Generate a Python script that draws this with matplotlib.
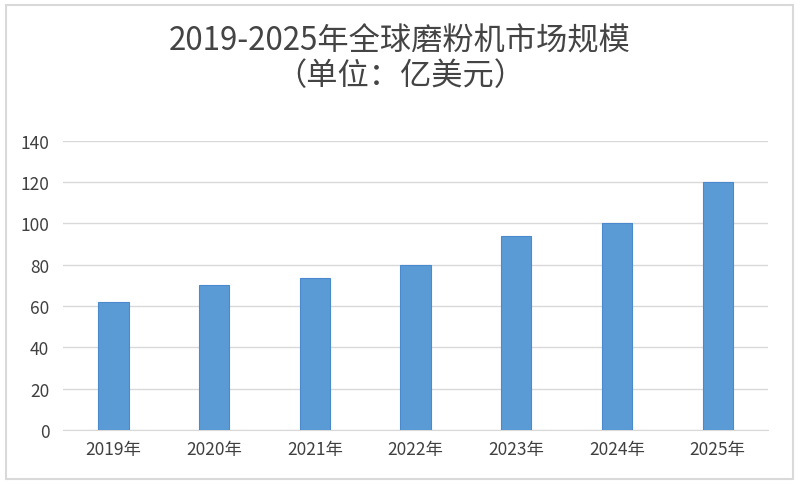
import matplotlib.pyplot as plt
from matplotlib.patches import Rectangle

plt.rcParams['font.family'] = ['Noto Sans CJK SC', 'DejaVu Sans']

years = ['2019年', '2020年', '2021年', '2022年', '2023年', '2024年', '2025年']
market_size = [62, 70, 73.6, 80, 94, 100, 120]
y_ticks = [0, 20, 40, 60, 80, 100, 120, 140]

fig = plt.figure(figsize=(8, 4.85), dpi=100)
ax = fig.add_axes([0.079, 0.1113, 0.881, 0.5965])

x = range(len(years))
ax.bar(x, market_size, width=0.3, color='#5B9BD5', edgecolor='#4A89CC', linewidth=0.8, zorder=3)

ax.set_xlim(-0.5, len(years) - 0.5)
ax.set_ylim(0, 140)
ax.set_yticks(y_ticks)
ax.set_xticks(list(x))
ax.set_xticklabels(years)
ax.grid(axis='y', color='#D9D9D9', linewidth=1, zorder=0)
for s in ['top', 'right', 'left']:
    ax.spines[s].set_visible(False)
ax.spines['bottom'].set_color('#D9D9D9')
ax.tick_params(axis='both', length=0, labelsize=12.5, labelcolor='#404040')
ax.tick_params(axis='y', pad=10)
ax.tick_params(axis='x', pad=7)

fig.text(0.5, 0.915, '2019-2025年全球磨粉机市场规模', ha='center', va='center',
         fontsize=22.5, color='#444444')
fig.text(0.5, 0.843, '（单位：亿美元）', ha='center', va='center',
         fontsize=22.5, color='#444444')

# light frame around the chart
fig.patches.append(Rectangle((0.007, 0.01), 0.984, 0.978, transform=fig.transFigure,
                             fill=False, edgecolor='#D9D9D9', linewidth=1.5))

fig.savefig('out.png', dpi=100)
